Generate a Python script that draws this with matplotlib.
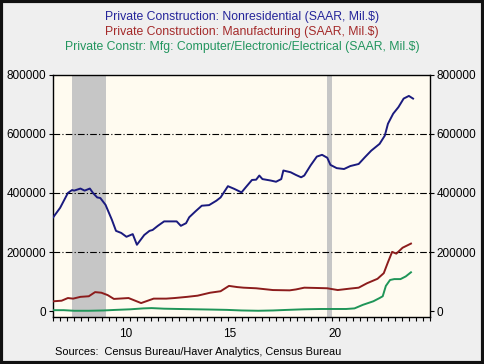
import numpy as np
import matplotlib
matplotlib.use('Agg')
import matplotlib.pyplot as plt
from matplotlib.patches import Rectangle

plt.rcParams['font.family'] = ['Liberation Sans', 'DejaVu Sans']

# Nonresidential (Mil.$)
nonres_t = [2007.0, 2007.33, 2007.7, 2007.9, 2008.0, 2008.3, 2008.5, 2008.75, 2008.9,
            2009.1, 2009.25, 2009.5, 2009.8, 2010.0, 2010.25, 2010.5, 2010.8, 2011.0,
            2011.35, 2011.6, 2011.75, 2012.0, 2012.3, 2012.9, 2013.1, 2013.35, 2013.5,
            2013.8, 2014.1, 2014.45, 2014.8, 2015.0, 2015.35, 2015.65, 2016.0, 2016.2,
            2016.5, 2016.7, 2016.85, 2017.0, 2017.4, 2017.65, 2017.9, 2018.0, 2018.35,
            2018.6, 2018.85, 2019.0, 2019.3, 2019.6, 2019.85, 2020.1, 2020.25, 2020.55,
            2020.9, 2021.2, 2021.6, 2021.9, 2022.2, 2022.6, 2022.85, 2023.0, 2023.25,
            2023.5, 2023.75, 2024.0, 2024.2]
nonres_v = [318, 350, 400, 410, 408, 415, 408, 415, 400,
            385, 383, 360, 310, 272, 265, 252, 261, 225,
            258, 272, 275, 289, 304, 304, 289, 298, 318,
            338, 357, 359, 374, 385, 423, 414, 402, 419,
            444, 445, 459, 447, 442, 438, 447, 476, 470,
            461, 453, 459, 493, 523, 529, 519, 495, 484,
            481, 491, 498, 521, 543, 566, 594, 634, 668,
            690, 719, 728, 719]

# Manufacturing
mfg_t = [2007.0, 2007.4, 2007.7, 2007.95, 2008.3, 2008.7, 2009.0, 2009.3, 2009.6,
         2009.9, 2010.6, 2011.2, 2011.8, 2012.4, 2012.8, 2013.4, 2013.9, 2014.5,
         2015.0, 2015.4, 2015.8, 2016.1, 2016.7, 2017.5, 2018.3, 2018.6, 2019.0,
         2019.6, 2020.1, 2020.6, 2021.2, 2021.6, 2022.0, 2022.5, 2022.8, 2023.0,
         2023.2, 2023.4, 2023.7, 2024.1]
mfg_v = [34, 36, 45, 43, 49, 51, 65, 63, 55,
         42, 45, 28, 43, 43, 45, 49, 53, 63,
         68, 86, 82, 80, 78, 72, 71, 74, 80,
         79, 78, 72, 77, 80, 95, 110, 129, 166,
         201, 195, 215, 229]

# Computer/Electronic/Electrical
cee_t = [2007.0, 2007.5, 2008.0, 2008.7, 2009.4, 2010.0, 2010.7, 2011.3, 2011.7,
         2012.3, 2013.0, 2013.8, 2014.6, 2015.3, 2016.0, 2016.8, 2017.5, 2018.2,
         2019.0, 2019.8, 2020.6, 2021.0, 2021.4, 2021.8, 2022.3, 2022.6, 2022.75,
         2022.9, 2023.1, 2023.3, 2023.6, 2023.85, 2024.1]
cee_v = [4, 4, 2, 2, 3, 5, 7, 10, 11,
         9, 8, 7, 6, 5, 3, 2, 3, 5,
         7, 8, 8, 8, 10, 22, 34, 45, 51,
         86, 106, 109, 109, 118, 132]

recessions = [(2007.917, 2009.5), (2020.083, 2020.33)]

titles = ['Private Construction: Nonresidential (SAAR, Mil.$)',
          'Private Construction: Manufacturing (SAAR, Mil.$)',
          'Private Constr: Mfg: Computer/Electronic/Electrical (SAAR, Mil.$)']
colors = ['#1a1a7e', '#8c1c1c', '#1f9558']
title_colors = ['#24249a', '#a42a2a', '#22955e']
yticks = [0, 200000, 400000, 600000, 800000]

fig = plt.figure(figsize=(4.84, 3.64), dpi=100, facecolor='#efefef')
fig.patches.append(Rectangle((0.003, 0.004), 0.994, 0.992, transform=fig.transFigure,
                             fill=False, edgecolor='#111111', linewidth=3))
ax = fig.add_axes([0.110, 0.130, 0.778, 0.665])
ax.set_facecolor('#fffbf0')

for a, b in recessions:
    ax.axvspan(a, b, color='#c6c6c6', linewidth=0, zorder=1)

for g in yticks[1:-1]:
    ax.axhline(g, color='black', linewidth=0.8, linestyle=(0, (6, 2, 1, 2)), zorder=2)

ax.plot(nonres_t, np.array(nonres_v) * 1000, color=colors[0], lw=1.4, zorder=3)
ax.plot(mfg_t, np.array(mfg_v) * 1000, color=colors[1], lw=1.4, zorder=3)
ax.plot(cee_t, np.array(cee_v) * 1000, color=colors[2], lw=1.4, zorder=3)

ax.set_xlim(2007.0, 2025.0)
ax.set_ylim(-18000, 800000)
ax.set_yticks(yticks)
ax.set_yticklabels([str(v) for v in yticks], fontsize=8.5)
ax.tick_params(axis='y', which='both', direction='out', length=3, width=0.8,
               left=True, right=True, labelleft=True, labelright=True, pad=2)
ax.set_xticks(np.arange(2007.0, 2025.01, 1 / 3))
ax.set_xticklabels([])
ax.tick_params(axis='x', direction='out', length=3, width=0.8)
for yr in [2010, 2015, 2020]:
    ax.text(yr + 0.45, -0.045, str(yr)[2:], transform=ax.get_xaxis_transform(),
            ha='center', va='top', fontsize=8.5)
for s in ax.spines.values():
    s.set_linewidth(1.0)

for i, t in enumerate(titles):
    fig.text(0.5, 0.954 - i * 0.041, t, ha='center', va='center', fontsize=8.8,
             color=title_colors[i])
fig.text(0.113, 0.033, 'Sources:  Census Bureau/Haver Analytics, Census Bureau',
         ha='left', va='center', fontsize=7.9)

fig.savefig('out.png', dpi=100, facecolor=fig.get_facecolor())
